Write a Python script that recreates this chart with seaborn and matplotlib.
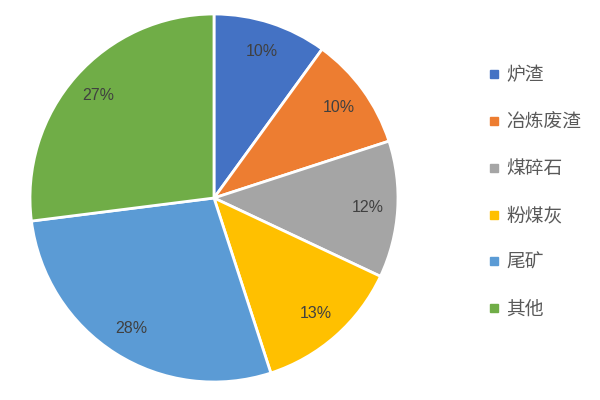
import matplotlib
matplotlib.use("Agg")
import matplotlib.pyplot as plt
from matplotlib.lines import Line2D
import seaborn as sns

# data
labels = ['炉渣', '冶炼废渣', '煤碎石', '粉煤灰', '尾矿', '其他']
values = [10, 10, 12, 13, 28, 27]
colors = ['#4472C4', '#ED7D31', '#A5A5A5', '#FFC000', '#5B9BD5', '#70AD47']

sns.set_style("white")
plt.rcParams['font.family'] = ['Noto Sans CJK SC', 'DejaVu Sans']

fig = plt.figure(figsize=(6, 4), dpi=100)
ax = fig.add_axes([0.05, 0.045, 0.6133, 0.92])
pal = sns.color_palette(colors)

wedges, texts, autotexts = ax.pie(
    values, colors=pal, startangle=90, counterclock=False,
    autopct='%d%%', pctdistance=0.84,
    wedgeprops=dict(edgecolor='white', linewidth=2),
    textprops=dict(color='#404040', fontsize=11.5, family=['Liberation Sans']),
)
ax.set_xlim(-1, 1)
ax.set_ylim(-1, 1)
ax.set_aspect('auto')
ax.axis('off')

handles = [Line2D([0], [0], marker='s', linestyle='', markersize=5.5,
                  markerfacecolor=c, markeredgecolor=c) for c in colors]
fig.legend(handles, labels, loc='upper left', bbox_to_anchor=(0.786, 0.881),
           frameon=False, fontsize=13.5, labelspacing=1.38, handletextpad=0.34,
           handlelength=0.6, labelcolor='#595959')

fig.savefig('out.png', dpi=100)
